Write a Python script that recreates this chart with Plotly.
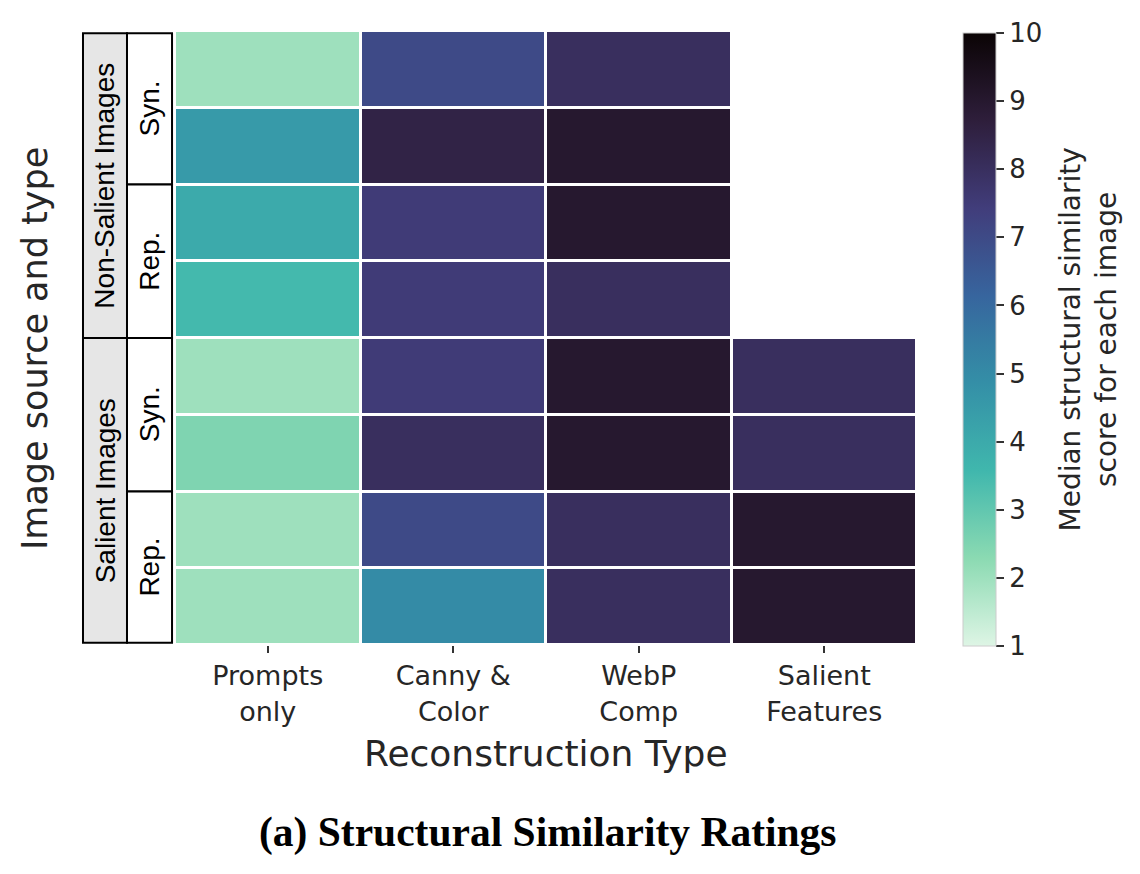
import plotly.graph_objects as go

# reconstruction types (columns)
recon_types = ['Prompts<br>only', 'Canny &<br>Color', 'WebP<br>Comp', 'Salient<br>Features']

# rows, top to bottom
row_groups = ['Non-Salient Images', 'Salient Images']
row_kinds = ['Syn.', 'Rep.', 'Syn.', 'Rep.']

# median structural similarity scores (None = not evaluated)
prompts_only = [2, 4.5, 4, 3.5, 2, 2.5, 2, 2]
canny_color = [7, 8.5, 7.5, 7.5, 7.5, 8, 7, 5]
webp_comp = [8, 9, 9, 8, 9, 9, 8, 8]
salient_feat = [None, None, None, None, 8, 8, 9, 9]

cbar_ticks = [1, 2, 3, 4, 5, 6, 7, 8, 9, 10]

# seaborn mako, reversed
mako_r = [
    [0.0, '#def5e5'],
    [0.143, '#8bdab2'],
    [0.286, '#40b7ad'],
    [0.429, '#348fa7'],
    [0.5, '#357ba2'],
    [0.571, '#37659e'],
    [0.714, '#413d7b'],
    [0.857, '#2e1e3b'],
    [1.0, '#0b0405'],
]

z = [list(r) for r in zip(prompts_only, canny_color, webp_comp, salient_feat)]
rows = list(range(len(z)))

fig = go.Figure()
fig.add_trace(go.Heatmap(
    z=z,
    x=recon_types,
    y=rows,
    zmin=1, zmax=10,
    colorscale=mako_r,
    xgap=3, ygap=3,
    hoverongaps=False,
    colorbar=dict(
        x=1.062, xanchor='left', xpad=0,
        y=0.4976, yanchor='middle', ypad=0,
        len=613, lenmode='pixels',
        thickness=33,
        outlinewidth=1, outlinecolor='#cccccc',
        tickvals=cbar_ticks,
        ticks='outside', ticklen=8, tickwidth=1.5, tickcolor='#333333',
        tickfont=dict(family='DejaVu Sans', size=26, color='#262626'),
    ),
))

# left-hand row-label table
tbl_font = dict(family='Liberation Sans, Arial', size=28, color='black')
x0, x1, x2 = -0.124, -0.0647, -0.004
top, bot = -0.47, 7.47
line = dict(color='black', width=2)

for g, (ya, yb) in enumerate([(top, 3.5), (3.5, bot)]):
    fig.add_shape(type='rect', xref='paper', yref='y', x0=x0, x1=x1, y0=ya, y1=yb,
                  fillcolor='#e6e6e6', line=line, layer='below')
    fig.add_annotation(xref='paper', yref='y', x=(x0 + x1) / 2, y=(ya + yb) / 2,
                       xanchor='center', yanchor='middle',
                       text=row_groups[g], textangle=-90, showarrow=False, font=tbl_font)

bounds = [top, 1.5, 3.5, 5.5, bot]
for k in range(4):
    fig.add_shape(type='rect', xref='paper', yref='y', x0=x1, x1=x2,
                  y0=bounds[k], y1=bounds[k + 1], fillcolor='white', line=line, layer='below')
    fig.add_annotation(xref='paper', yref='y', x=(x1 + x2) / 2, y=(bounds[k] + bounds[k + 1]) / 2,
                       xanchor='center', yanchor='middle',
                       text=row_kinds[k], textangle=-90, showarrow=False, font=tbl_font)

# axis titles, colorbar title and caption
fig.add_annotation(xref='paper', yref='paper', x=-0.1887, y=0.4837,
                   xanchor='center', yanchor='middle',
                   text='Image source and type', textangle=-90, showarrow=False,
                   font=dict(family='DejaVu Sans', size=35, color='#262626'))
fig.add_annotation(xref='paper', yref='paper', x=0.5, y=-0.1759,
                   xanchor='center', yanchor='middle',
                   text='Reconstruction Type', showarrow=False,
                   font=dict(family='DejaVu Sans', size=36, color='#262626'))
fig.add_annotation(xref='paper', yref='paper', x=1.2305, y=0.4976,
                   xanchor='center', yanchor='middle',
                   text='Median structural similarity<br>score for each image',
                   textangle=-90, showarrow=False,
                   font=dict(family='DejaVu Sans', size=28, color='#262626'))
fig.add_annotation(xref='paper', yref='paper', x=0.503, y=-0.3046,
                   xanchor='center', yanchor='middle',
                   text='<b>(a) Structural Similarity Ratings</b>', showarrow=False,
                   font=dict(family='Liberation Serif, Times New Roman', size=41.5, color='black'))

fig.update_xaxes(
    showgrid=False, zeroline=False, showline=False,
    ticks='outside', ticklen=7, tickwidth=1.5, tickcolor='#333333',
    tickfont=dict(family='DejaVu Sans', size=27, color='#262626'),
)
fig.update_yaxes(
    range=[7.5, -0.5], showgrid=False, zeroline=False, showline=False,
    showticklabels=False, ticks='',
)
# page body adds an 8px offset, so the figure is 8px smaller and shifted back
fig.update_layout(
    width=1132, height=866,
    margin=dict(l=167, r=223, t=23, b=229, autoexpand=False),
    plot_bgcolor='white', paper_bgcolor='white',
    showlegend=False,
)

fig.write_html('out.html')
